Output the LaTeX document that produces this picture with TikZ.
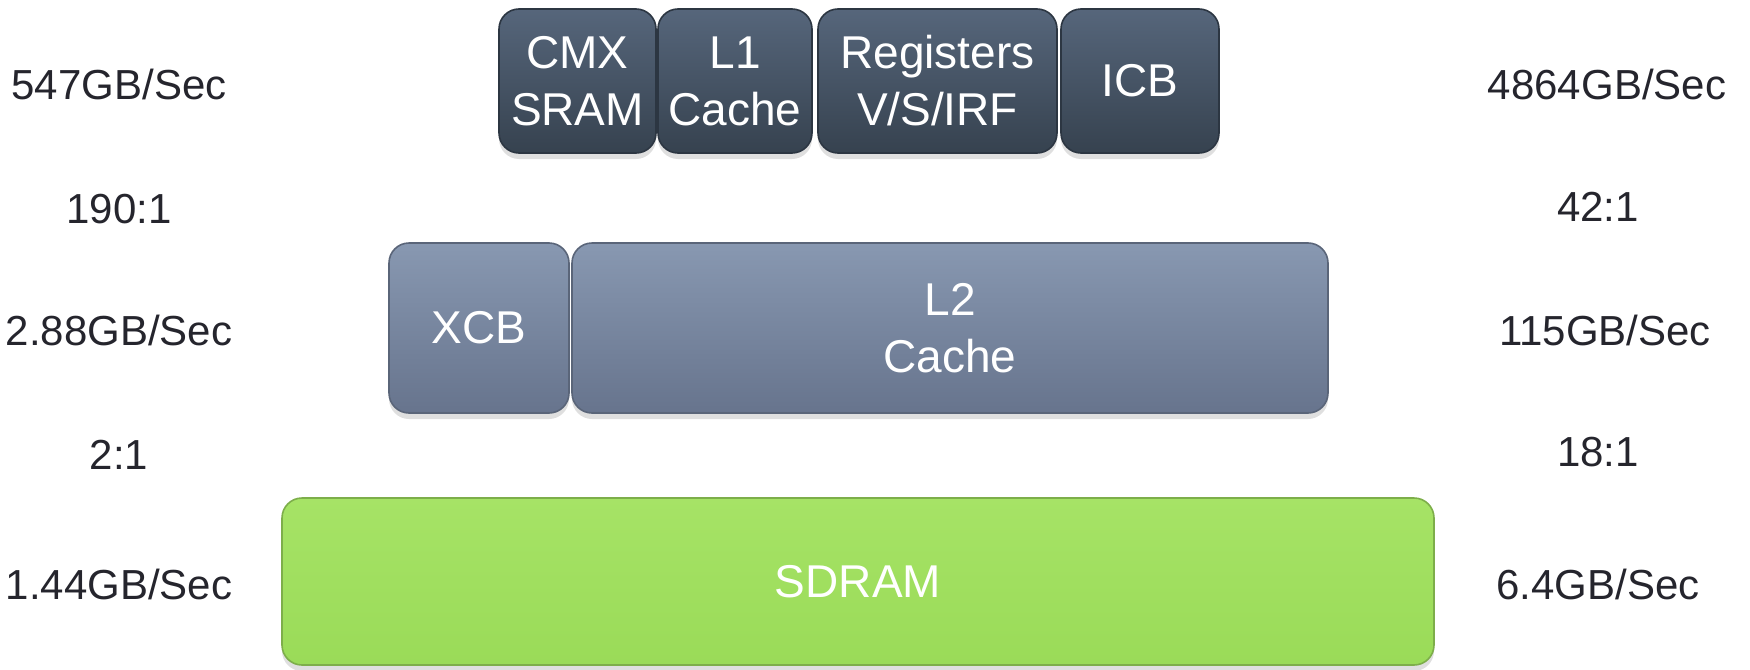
\documentclass[tikz,border=0pt]{standalone}
\usepackage{fontspec}
\setmainfont{Liberation Sans}
\usetikzlibrary{shadows}
\definecolor{topA}{HTML}{56667B}
\definecolor{topB}{HTML}{36424F}
\definecolor{topE}{HTML}{2C3642}
\definecolor{midA}{HTML}{8898B1}
\definecolor{midB}{HTML}{67748D}
\definecolor{midE}{HTML}{5A6579}
\definecolor{grA}{HTML}{A6E366}
\definecolor{grB}{HTML}{9ADB58}
\definecolor{grE}{HTML}{7DAE4A}
\definecolor{labtext}{HTML}{25252D}
\newcommand{\boxfont}{\fontsize{23}{28.5}\selectfont}
\newcommand{\labfont}{\fontsize{21}{26}\selectfont}
\begin{document}
\begin{tikzpicture}[x=0.5pt,y=-0.5pt,
  box/.style={rectangle, rounded corners=10pt, inner sep=0pt, align=center,
    text=white, font=\boxfont, line width=0.8pt,
    drop shadow={opacity=0.25, shadow xshift=0pt, shadow yshift=-3pt}},
  darkbox/.style={box, top color=topA, bottom color=topB, draw=topE, minimum height=72pt},
  midbox/.style={box, top color=midA, bottom color=midB, draw=midE, minimum height=85pt},
  greenbox/.style={box, top color=grA, bottom color=grB, draw=grE, minimum height=83.5pt},
  lab/.style={text=labtext, font=\labfont, inner sep=0pt}
]
\useasboundingbox (0,0) rectangle (1750,669);
% top row
\node[darkbox, minimum width=78.5pt] (cmx) at (577.5,81) {CMX\\SRAM};
\node[darkbox, minimum width=77pt] (l1) at (735,81) {L1\\Cache};
\node[darkbox, minimum width=119.5pt] (reg) at (937.5,81) {Registers\\V/S/IRF};
\node[darkbox, minimum width=79pt] (icb) at (1140,81) {ICB};
% middle row
\node[midbox, minimum width=90pt] (xcb) at (479,328) {XCB};
\node[midbox, minimum width=378pt] (l2) at (950,328) {L2\\Cache};
% bottom
\node[greenbox, minimum width=576pt] (sdram) at (858,581.5) {SDRAM};
% left labels
\node[lab] (l547) at (119,84) {547GB/Sec};
\node[lab] (l190) at (119,209) {190:1};
\node[lab] (l288) at (119,330) {2.88GB/Sec};
\node[lab] (l21) at (119,455) {2:1};
\node[lab] (l144) at (119,584) {1.44GB/Sec};
% right labels
\node[lab] (r4864) at (1607,84) {4864GB/Sec};
\node[lab] (r42) at (1598,207) {42:1};
\node[lab] (r115) at (1605,330) {115GB/Sec};
\node[lab] (r18) at (1598,452) {18:1};
\node[lab] (r64) at (1598,584) {6.4GB/Sec};
\end{tikzpicture}
\end{document}
